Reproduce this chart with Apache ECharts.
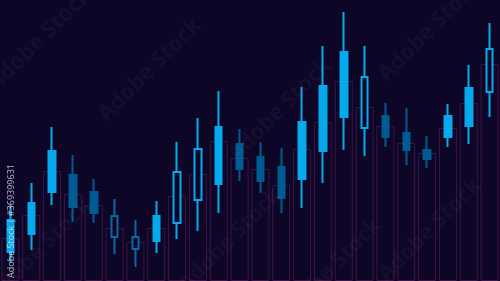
<!DOCTYPE html>
<html>
<head>
<meta charset="utf-8">
<script src="https://cdn.jsdelivr.net/npm/echarts@6/dist/echarts.min.js"></script>
<style>
html,body{margin:0;padding:0;background:#0d0627;}
#chart{width:500px;height:281px;}
</style>
</head>
<body>
<div id="chart"></div>
<script>
// Data (price scale)
var categories = ['1','2','3','4','5','6','7','8','9','10','11','12','13','14','15','16','17','18','19','20','21','22','23','24'];
var bodyTop    = [61, 78, 130, 106, 89, 65, 44, 65, 109, 132, 154, 137, 124, 114, 159, 195, 229, 204, 165, 148, 131, 165, 193, 232];
var bodyBottom = [29, 47, 89, 74, 68, 44, 32, 40, 58, 81, 97, 112, 100, 83, 102, 130, 164, 153, 144, 131, 122, 144, 155, 189];
var highs      = [76, 98, 154, 126, 102, 82, 61, 80, 139, 163, 190, 152, 139, 133, 194, 235, 269, 235, 178, 173, 145, 177, 216, 258];
var lows       = [19, 31, 76, 59, 58, 27, 14, 28, 42, 50, 68, 100, 88, 68, 73, 98, 131, 125, 134, 116, 113, 134, 137, 164];
// candle kind: up = bright filled, down = dark filled, hollowUp / hollowDown = outlined
var kinds = ['up','up','up','down','down','hollowDown','hollowDown','up','hollowUp','hollowUp','up','down','down','down','up','up','up','hollowUp','down','down','down','up','up','hollowUp'];
var volumes    = [43, 66, 110, 87, 76, 53, 39, 53, 85, 107, 140, 123, 112, 96, 132, 159, 200, 174, 155, 138, 128, 153, 178, 217];

var BG = '#0d0627';
var BRIGHT = '#05a9ec';
var DARK = '#005b92';
var HOLLOW_DARK = '#0a67a3';

var candleData = categories.map(function(c, i){
  var k = kinds[i];
  var up = (k === 'up' || k === 'hollowUp');
  var open = up ? bodyBottom[i] : bodyTop[i];
  var close = up ? bodyTop[i] : bodyBottom[i];
  var style;
  if (k === 'up') style = {color: BRIGHT, color0: BRIGHT, borderColor: BRIGHT, borderColor0: BRIGHT};
  else if (k === 'down') style = {color: DARK, color0: DARK, borderColor: DARK, borderColor0: DARK};
  else if (k === 'hollowUp') style = {color: BG, color0: BG, borderColor: BRIGHT, borderColor0: BRIGHT};
  else style = {color: BG, color0: BG, borderColor: HOLLOW_DARK, borderColor0: HOLLOW_DARK};
  return {value: [open, close, lows[i], highs[i]], itemStyle: style};
});

var chart = echarts.init(document.getElementById('chart'));
var wm = [];
var wmPos = [[40,40],[150,70],[280,110],[430,30],[40,250],[230,240],[430,230],[330,270]];
wmPos.forEach(function(p){
  wm.push({type:'text', x:p[0], y:p[1], rotation: Math.PI/4, silent:true, z:100,
    style:{text:'Adobe Stock', fill:'rgba(255,255,255,0.035)', font:'bold 22px "Open Sans", sans-serif', align:'center', verticalAlign:'middle'}});
});
wm.push({type:'text', x:11, y:221, rotation: Math.PI/2, silent:true, z:101,
  style:{text:'Adobe Stock | #369399631', fill:'rgba(225,225,235,0.8)', font:'9px "Open Sans", sans-serif', align:'center', verticalAlign:'middle'}});

chart.setOption({
  backgroundColor: BG,
  animation: false,
  grid: {left: -2.5, right: -1.5, top: 0, bottom: 0},
  xAxis: {type:'category', data: categories, boundaryGap: true,
    axisLine:{show:false}, axisTick:{show:false}, axisLabel:{show:false}, splitLine:{show:false}},
  yAxis: {type:'value', min:0, max:281, axisLine:{show:false}, axisTick:{show:false}, axisLabel:{show:false}, splitLine:{show:false}},
  series: [
    {type:'bar', data: volumes, barWidth: 18, z: 1,
      itemStyle:{color:'rgba(0,0,0,0)', borderColor:'#3d1447', borderWidth:1}},
    {type:'candlestick', data: candleData, barWidth: 7, z: 5,
      itemStyle:{borderWidth: 2}}
  ],
  graphic: wm
});
</script>
</body>
</html>
